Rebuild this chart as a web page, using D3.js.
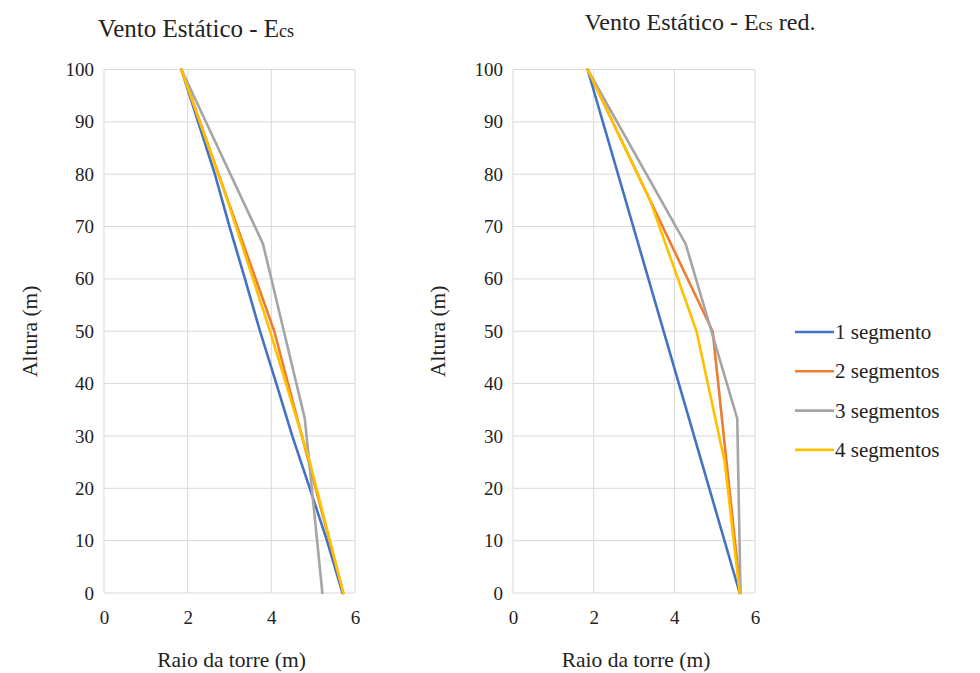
<!DOCTYPE html>
<html>
<head>
<meta charset="utf-8">
<script src="https://cdn.jsdelivr.net/npm/d3@7"></script>
</head>
<body style="margin:0;background:#fff">
<div id="wrap"></div>
<script>
// ---- Data ----
const seriesNames = ["1 segmento", "2 segmentos", "3 segmentos", "4 segmentos"];
const seriesColors = ["#4472C4", "#ED7D31", "#A5A5A5", "#FFC000"];
const xTicks = [0, 2, 4, 6];
const yTicks = [0, 10, 20, 30, 40, 50, 60, 70, 80, 90, 100];

// Left chart: Vento Estático - Ecs   (raio, altura)
const leftSeg1 = [[1.85,100],[2.25,90],[2.65,80],[3.0,70],[3.37,60],[3.73,50],[4.12,40],[4.5,30],[4.92,20],[5.33,10],[5.7,0]];
const leftSeg2 = [[1.85,100],[4.07,50],[5.72,0]];
const leftSeg3 = [[1.85,100],[3.8,66.7],[4.8,33.3],[5.22,0]];
const leftSeg4 = [[1.85,100],[2.95,75],[3.97,50],[4.92,25],[5.72,0]];

// Right chart: Vento Estático - Ecs red.
const rightSeg1 = [[1.85,100],[5.62,0]];
const rightSeg2 = [[1.85,100],[4.95,50],[5.64,0]];
const rightSeg3 = [[1.85,100],[4.28,66.7],[5.56,33.3],[5.64,0]];
const rightSeg4 = [[1.85,100],[3.4,75],[4.55,50],[5.25,25],[5.62,0]];

const charts = [
  { title: ["Vento Estático - E", "cs", ""], series: [leftSeg1, leftSeg2, leftSeg3, leftSeg4],
    x0: 104, x1: 355, titleX: 196, titleY: 37, titleSize: 25, yTitleX: 37 },
  { title: ["Vento Estático - E", "cs", " red."], series: [rightSeg1, rightSeg2, rightSeg3, rightSeg4],
    x0: 513, x1: 755, titleX: 700, titleY: 30, titleSize: 24, yTitleX: 445 }
];

const FONT = "Liberation Serif";
function serif(sel, size) {
  sel.each(function () {
    this.setAttribute("font-family", FONT);
    this.style.setProperty("font-family", FONT, "important");
    if (size) { this.setAttribute("font-size", size); this.style.setProperty("font-size", size + "px", "important"); }
    this.setAttribute("fill", "#222");
  });
  return sel;
}

const svg = d3.select("#wrap").append("svg").attr("width", 980).attr("height", 673);
const yTop = 69.5, yBot = 593;

charts.forEach(c => {
  const x = d3.scaleLinear().domain([0, 6]).range([c.x0, c.x1]);
  const y = d3.scaleLinear().domain([0, 100]).range([yBot, yTop]);
  const g = svg.append("g");

  // grid
  g.selectAll("line.h").data(yTicks).join("line")
    .attr("x1", c.x0).attr("x2", c.x1)
    .attr("y1", d => y(d)).attr("y2", d => y(d))
    .attr("stroke", "#D9D9D9").attr("stroke-width", 1);
  g.selectAll("line.v").data(xTicks).join("line")
    .attr("y1", yTop).attr("y2", yBot)
    .attr("x1", d => x(d)).attr("x2", d => x(d))
    .attr("stroke", "#D9D9D9").attr("stroke-width", 1);

  // axes
  const ax = g.append("g").attr("transform", `translate(0,${yBot})`)
    .call(d3.axisBottom(x).tickValues(xTicks).tickSize(0).tickPadding(18).tickFormat(d3.format("d")));
  ax.attr("font-family", FONT);
  ax.select(".domain").remove();
  serif(ax.selectAll("text"), 19);

  const ay = g.append("g").attr("transform", `translate(${c.x0},0)`)
    .call(d3.axisLeft(y).tickValues(yTicks).tickSize(0).tickPadding(10).tickFormat(d3.format("d")));
  ay.attr("font-family", FONT);
  ay.select(".domain").remove();
  serif(ay.selectAll("text"), 19);

  // lines
  const line = d3.line().x(d => x(d[0])).y(d => y(d[1]));
  c.series.forEach((s, i) => {
    g.append("path").datum(s).attr("d", line)
      .attr("fill", "none").attr("stroke", seriesColors[i])
      .attr("stroke-width", 2.6).attr("stroke-linejoin", "round").attr("stroke-linecap", "round");
  });

  // title
  const t = g.append("text").attr("x", c.titleX).attr("y", c.titleY).attr("text-anchor", "middle");
  serif(t, c.titleSize);
  serif(t.append("tspan").text(c.title[0]), c.titleSize);
  serif(t.append("tspan").text(c.title[1]), Math.round(c.titleSize * 0.7));
  if (c.title[2]) serif(t.append("tspan").text(c.title[2]), c.titleSize);

  // axis titles
  serif(g.append("text").attr("x", (c.x0 + c.x1) / 2 + 2).attr("y", 667)
    .attr("text-anchor", "middle").text("Raio da torre (m)"), 21.5);
  serif(g.append("text").attr("transform", `translate(${c.yTitleX},${(yTop + yBot) / 2}) rotate(-90)`)
    .attr("text-anchor", "middle").text("Altura (m)"), 21.5);
});

// legend
const lg = svg.append("g");
seriesNames.forEach((n, i) => {
  const yy = 332 + i * 39.3;
  lg.append("line").attr("x1", 795).attr("x2", 834).attr("y1", yy).attr("y2", yy)
    .attr("stroke", seriesColors[i]).attr("stroke-width", 2.6);
  serif(lg.append("text").attr("x", 835).attr("y", yy + 7).text(n), 21);
});
</script>
</body>
</html>
